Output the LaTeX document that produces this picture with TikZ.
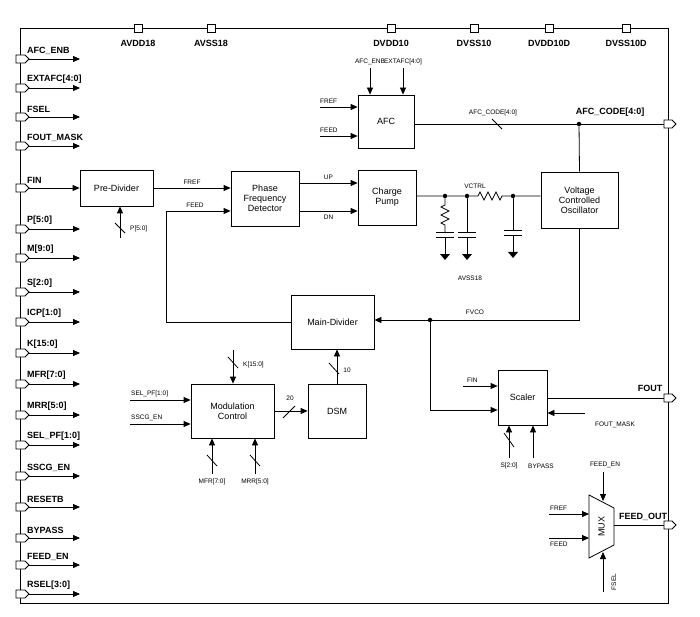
\documentclass[tikz,border=0pt]{standalone}
\usepackage{fontspec}
\setmainfont{Liberation Sans}
\usetikzlibrary{arrows.meta,calc}

\tikzset{
  blk/.style={draw, thick, fill=white, align=center, font=\fontsize{9}{10}\selectfont, inner sep=1pt},
  sig/.style={thick, -{Triangle[length=7pt,width=6pt]}},
  wire/.style={thick},
  pinlbl/.style={font=\fontsize{9}{10}\selectfont\bfseries, inner sep=0pt},
  small/.style={font=\fontsize{6.5}{7}\selectfont, inner sep=0pt},
  bus/.style={thick},
  dot/.style={circle, fill=black, inner sep=0pt, minimum size=4.5pt}
}

\begin{document}
\begin{tikzpicture}[x=1pt, y=-1pt]
            \useasboundingbox (0,0) rectangle (700,617);

            % outer frame
            \draw[thick] (20,28) rectangle (668,603);

            % supply pins along the top
            \foreach \xx/\lbl in {138/AVDD18, 211/AVSS18, 391/DVDD10, 474/DVSS10, 549/DVDD10D, 626/DVSS10D}{
                    \draw[thick, fill=white] (\xx-4,24) rectangle (\xx+4,32);
                    \node[pinlbl] at (\xx,43) {\lbl};
                }

            % input pins on the left with their arrows
            \foreach \nm/\yy/\lbl in {afcenb/59/AFC\_ENB, extafc/88/EXTAFC[4:0], fsel/117/FSEL, foutmask/146/FOUT\_MASK,
                    fin/188/FIN, p/229/P[5:0], m/258/M[9:0], s/292/S[2:0], icp/322/ICP[1:0], k/353/K[15:0],
                    mfr/384/MFR[7:0], mrr/415/MRR[5:0], selpf/445/SEL\_PF[1:0], sscgen/476/SSCG\_EN,
                    resetb/507/RESETB, bypass/538/BYPASS, feeden/565/FEED\_EN, rsel/594/RSEL[3:0]}{
                    \draw[thick, fill=white] (16,\yy-4) -- (25,\yy-4) -- (29,\yy) -- (25,\yy+4) -- (16,\yy+4) -- cycle;
                    \coordinate (pin\nm) at (29,\yy);
                    \coordinate (end\nm) at (80,\yy);
                    \node[pinlbl, anchor=south west] (lbl\nm) at (27,\yy-4) {\lbl};
                }
            \foreach \nm in {afcenb, extafc, fsel, foutmask, p, m, s, icp, k, mfr, mrr, selpf, sscgen, resetb, bypass, feeden, rsel}
            \draw[sig] (pin\nm) -- (end\nm);

            % main blocks
            \node[blk, minimum width=73pt, minimum height=36pt] (pre) at (116.5,188) {Pre-Divider};
            \node[blk, minimum width=68pt, minimum height=55pt] (pfd) at (265,198.5) {Phase\\Frequency\\Detector};
            \node[blk, minimum width=58pt, minimum height=55pt] (cp) at (387,197.5) {Charge\\Pump};
            \node[blk, minimum width=56pt, minimum height=53pt] (afc) at (386,121.5) {AFC};
            \node[blk, minimum width=77pt, minimum height=56pt] (vco) at (579.5,200) {Voltage\\Controlled\\Oscillator};
            \node[blk, minimum width=83pt, minimum height=54pt] (md) at (332.5,322) {Main-Divider};
            \node[blk, minimum width=58pt, minimum height=54pt] (dsm) at (337,411) {DSM};
            \node[blk, minimum width=83pt, minimum height=54pt] (mc) at (232.5,411) {Modulation\\Control};
            \node[blk, minimum width=49pt, minimum height=55pt] (sc) at (522.5,397.5) {Scaler};

            % MUX trapezoid
            \draw[thick, fill=white] (589,495) -- (614,508) -- (614,545) -- (589,558) -- cycle;
            \node[rotate=90, font=\fontsize{9}{10}\selectfont, inner sep=0pt] (mux) at (601.5,526.5) {MUX};

            % FIN to Pre-Divider, FREF and FEED into the detector
            \coordinate (finin) at (29,188);
            \draw[sig] (finin) -- (pre.west);
            \draw[sig] (pre.east) -- (pfd.west |- pre.east) node[small, midway, above=3pt] {FREF};
            \coordinate (fbc) at (166,211);
            \draw[sig] (md.west) -| (fbc) -- (fbc -| pfd.west);
            \node[small] at (195,205) {FEED};

            % P[5:0] bus into the Pre-Divider
            \coordinate (pbus) at (120,238);
            \draw[sig] (pbus) -- (pbus |- pre.south);
            \draw[bus] (115,223) -- (125,233);
            \node[small, anchor=west] at (130,229) {P[5:0]};

            % UP and DN
            \draw[sig] (pfd.east |- 0,183) -- (cp.west |- 0,183) node[small, midway, above=3pt] {UP};
            \draw[sig] (pfd.east |- 0,211) -- (cp.west |- 0,211) node[small, midway, below=4pt] {DN};

            % AFC inputs
            \coordinate (afcin1) at (370,68);
            \coordinate (afcin2) at (403,68);
            \draw[sig] (afcin1) -- (afcin1 |- afc.north);
            \draw[sig] (afcin2) -- (afcin2 |- afc.north);
            \node[small, above=3pt] at (afcin1) {AFC\_ENB};
            \node[small, above=3pt] at (afcin2) {EXTAFC[4:0]};
            \coordinate (afcfref) at (320,107);
            \coordinate (afcfeed) at (320,136);
            \draw[sig] (afcfref) -- (afcfref -| afc.west);
            \draw[sig] (afcfeed) -- (afcfeed -| afc.west);
            \node[small, anchor=south west] at (320,104) {FREF};
            \node[small, anchor=south west] at (320,133) {FEED};

            % AFC code output
            \node[dot] (jafc) at (579,124) {};
            \coordinate (pinafc) at (664,124);
            \draw[wire] (afc.east |- jafc) -- (jafc) -- (pinafc);
            \draw[bus] (492,119) -- (502,129);
            \node[small] at (493,113) {AFC\_CODE[4:0]};
            \draw[wire] (jafc) -- (vco.north);
            \node[pinlbl] at (610,112) {AFC\_CODE[4:0]};

            % loop filter
            \node[dot] (j1) at (445,196) {};
            \node[dot] (j2) at (467,196) {};
            \node[dot] (j3) at (513,196) {};
            \draw[wire] (cp.east |- j1) -- (j1) -- (j2) -- (478,196) -- (480,192) -- (484,200) -- (488,192) -- (492,200) -- (496,192) -- (500,200) -- (502,196) -- (j3) -- (vco.west |- j3);
            \node[small] at (475,186) {VCTRL};
            \draw[wire] (j1) -- (445,205) -- (441,207) -- (449,211) -- (441,215) -- (449,219) -- (441,223) -- (445,225) -- (445,232);
            \foreach \xx/\yt in {445/232, 467/232, 513/230}{
                    \draw[wire] (\xx-9,\yt) -- (\xx+9,\yt);
                    \draw[wire] (\xx-9,\yt+5) -- (\xx+9,\yt+5);
                    \draw[wire] (\xx,\yt+5) -- (\xx,\yt+22);
                    \fill (\xx-5,\yt+22) -- (\xx+5,\yt+22) -- (\xx,\yt+28) -- cycle;
                }
            \draw[wire] (j2) -- (467,232);
            \draw[wire] (j3) -- (513,230);
            \node[small] at (470,278) {AVSS18};

            % FVCO back to the Main-Divider
            \node[dot] (jfvco) at (430,320) {};
            \draw[sig] (vco.south) |- (jfvco) -- (md.east |- jfvco);
            \node[small] at (475,312) {FVCO};
            \draw[sig] (jfvco) |- (sc.west |- 0,410);

            % Scaler inputs and output
            \coordinate (scfin) at (463,386);
            \draw[sig] (scfin) -- (scfin -| sc.west);
            \node[small, anchor=south west] at (467,383) {FIN};
            \coordinate (pinfout) at (664,398);
            \draw[wire] (sc.east |- pinfout) -- (pinfout);
            \node[pinlbl] at (650,388) {FOUT};
            \coordinate (scmask) at (585,413);
            \draw[sig] (scmask) -- (scmask -| sc.east);
            \node[small] at (615,425) {FOUT\_MASK};
            \coordinate (scs) at (509,458);
            \coordinate (scbyp) at (533,458);
            \draw[sig] (scs) -- (scs |- sc.south);
            \draw[sig] (scbyp) -- (scbyp |- sc.south);
            \draw[bus] (504,433) -- (514,447);
            \node[small] at (509,466) {S[2:0]};
            \node[small] at (541,466) {BYPASS};

            % MUX inputs and output
            \coordinate (muxen) at (603,472);
            \coordinate (muxsel) at (603,592);
            \draw[sig] (muxen) -- (603,501);
            \draw[sig] (muxsel) -- (603,552);
            \node[small] at (605,465) {FEED\_EN};
            \node[small, rotate=90] at (614,582) {FSEL};
            \coordinate (muxfref) at (549,514);
            \coordinate (muxfeed) at (549,538);
            \draw[sig] (muxfref) -- (589,514);
            \draw[sig] (muxfeed) -- (589,538);
            \node[small, anchor=south west] at (550,511) {FREF};
            \node[small, anchor=north west] at (550,542) {FEED};
            \coordinate (pinfeedout) at (664,525);
            \draw[wire] (614,525) -- (pinfeedout);
            \node[pinlbl] at (643,517) {FEED\_OUT};

            % right side output pins
            \foreach \yy in {124, 398, 525}
            \draw[thick, fill=white] (664,\yy-4) -- (672,\yy-4) -- (676,\yy) -- (672,\yy+4) -- (664,\yy+4) -- cycle;

            % Modulation Control and DSM
            \draw[sig] (mc.east) -- (dsm.west);
            \draw[bus] (283,418) -- (295,406);
            \node[small] at (290,398) {20};
            \draw[sig] (dsm.north) -- (dsm.north |- md.south);
            \draw[bus] (329,363) -- (339,374);
            \node[small] at (347,370) {10};
            \coordinate (mck) at (233,350);
            \draw[sig] (mck) -- (mck |- mc.north);
            \draw[bus] (228,357) -- (238,368);
            \node[small, anchor=west] at (243,365) {K[15:0]};
            \coordinate (mcmfr) at (212,474);
            \coordinate (mcmrr) at (255,474);
            \draw[sig] (mcmfr) -- (mcmfr |- mc.south);
            \draw[sig] (mcmrr) -- (mcmrr |- mc.south);
            \draw[bus] (207,455) -- (217,466);
            \draw[bus] (250,455) -- (260,466);
            \node[small] at (212,482) {MFR[7:0]};
            \node[small] at (255,482) {MRR[5:0]};
            \coordinate (mcsel) at (130,400);
            \coordinate (mcsscg) at (130,424);
            \draw[sig] (mcsel) -- (mcsel -| mc.west);
            \draw[sig] (mcsscg) -- (mcsscg -| mc.west);
            \node[small, anchor=south west] at (131,397) {SEL\_PF[1:0]};
            \node[small, anchor=south west] at (131,421) {SSCG\_EN};
\end{tikzpicture}
\end{document}
